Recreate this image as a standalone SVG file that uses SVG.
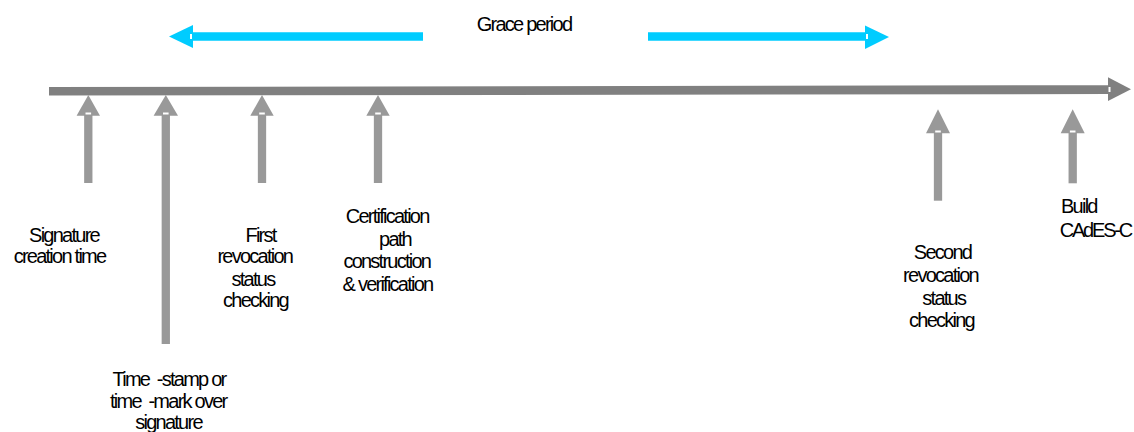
<svg xmlns="http://www.w3.org/2000/svg" width="1134" height="432" viewBox="0 0 1134 432">
<style>
text{font-family:"Liberation Sans",Arial,sans-serif;font-size:20px;letter-spacing:-1.75px;fill:#000;white-space:pre}
.m{text-anchor:middle}
.e{text-anchor:end}
.shaft{stroke:#999999;stroke-width:8.3;fill:none}
.head{fill:#999999}
.notch{fill:#ffffff}
.cy{stroke:#00ccff;stroke-width:8.4;fill:none}
.cyh{fill:#00ccff}
</style>
<rect width="1134" height="432" fill="#ffffff"/>
<g id="connectors">
  <g id="timeline">
    <polygon points="49,87 1108,85.2 1108,94 49,95.6" fill="#808080"/>
    <polygon points="1108,77.3 1131,89.2 1108,101" fill="#808080"/>
    <rect class="notch" x="1108.5" y="87" width="2" height="5"/>
  </g>
  <g id="grace-left">
    <line class="cy" x1="191" y1="36.5" x2="423" y2="36.5"/>
    <polygon class="cyh" points="169,36.5 193,25 193,48"/>
    <rect class="notch" x="190" y="34" width="2" height="5"/>
  </g>
  <g id="grace-right">
    <line class="cy" x1="648" y1="36.5" x2="866" y2="36.5"/>
    <polygon class="cyh" points="889,37 865,25.5 865,49"/>
    <rect class="notch" x="866" y="34" width="2" height="5"/>
  </g>
  <g id="arrow-sig">
    <line class="shaft" x1="88.3" y1="115" x2="88.3" y2="183"/>
    <polygon class="head" points="88.3,95 100,115.7 76.6,115.7"/>
    <rect class="notch" x="85.5" y="112.5" width="5.6" height="2"/>
  </g>
  <g id="arrow-ts">
    <line class="shaft" x1="165.8" y1="115" x2="165.8" y2="344"/>
    <polygon class="head" points="165.8,95 178,115.7 153.6,115.7"/>
    <rect class="notch" x="163" y="112.5" width="5.6" height="2"/>
  </g>
  <g id="arrow-first">
    <line class="shaft" x1="262" y1="115" x2="262" y2="183"/>
    <polygon class="head" points="262,95 273.7,115.7 250.3,115.7"/>
    <rect class="notch" x="259.2" y="112.5" width="5.6" height="2"/>
  </g>
  <g id="arrow-cert">
    <line class="shaft" x1="378" y1="115" x2="378" y2="183"/>
    <polygon class="head" points="378,95 389.7,115.7 366.3,115.7"/>
    <rect class="notch" x="375.2" y="112.5" width="5.6" height="2"/>
  </g>
  <g id="arrow-second">
    <line class="shaft" x1="938" y1="133" x2="938" y2="200.7"/>
    <polygon class="head" points="938,109.3 950,133.3 926,133.3"/>
    <rect class="notch" x="935.2" y="130.5" width="5.6" height="2"/>
  </g>
  <g id="arrow-build">
    <line class="shaft" x1="1072.7" y1="133" x2="1072.7" y2="183.3"/>
    <polygon class="head" points="1072.7,109.3 1084.7,133.3 1060.7,133.3"/>
    <rect class="notch" x="1069.9" y="130.5" width="5.6" height="2"/>
  </g>
</g>
<g id="grace-period"><text class="m" x="524" y="31">Grace period</text></g>
<g id="signature-creation">
  <text class="m" x="64" y="241.7">Signature</text>
  <text class="m" x="59.5" y="263.3">creation time</text>
</g>
<g id="time-stamp">
  <text class="m" x="169" y="386">Time  -stamp or</text>
  <text class="m" x="168.3" y="408">time  -mark over</text>
  <text class="m" x="168.5" y="429">signature</text>
</g>
<g id="first-revocation">
  <text class="m" x="260.5" y="241.7">First</text>
  <text class="m" x="254.8" y="263.3">revocation</text>
  <text class="m" x="253" y="285.5">status</text>
  <text class="m" x="255.5" y="306.7">checking</text>
</g>
<g id="cert-path">
  <text class="m" x="387.2" y="223.3">Certification</text>
  <text class="m" x="395" y="245.5">path</text>
  <text class="m" x="386.8" y="268">construction</text>
  <text class="m" x="387.5" y="290.5">&amp; verification</text>
</g>
<g id="second-revocation">
  <text class="m" x="942.5" y="259.3">Second</text>
  <text class="m" x="940.5" y="281.7">revocation</text>
  <text class="m" x="943.8" y="304.5">status</text>
  <text class="m" x="941.5" y="326.7">checking</text>
</g>
<g id="build-cades">
  <text x="1061" y="213.3">Build</text>
  <text class="e" x="1131" y="236.7" style="letter-spacing:-2.2px">CAdES-C</text>
</g>
</svg>
